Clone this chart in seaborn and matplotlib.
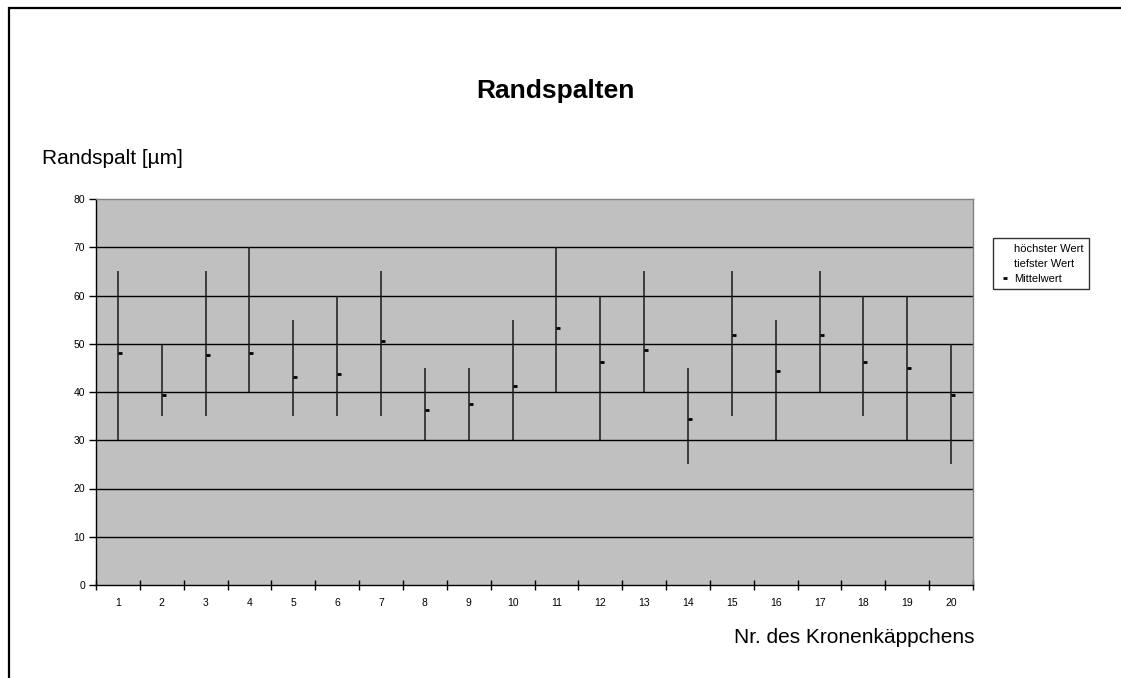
import numpy as np
import pandas as pd
import matplotlib
matplotlib.use("Agg")
import matplotlib.pyplot as plt
from matplotlib.lines import Line2D
from matplotlib.patches import Rectangle
import seaborn as sns

# ---- data ----
crowns = list(range(1, 21))
high = [65, 50, 65, 70, 55, 60, 65, 45, 45, 55, 70, 60, 65, 45, 65, 55, 65, 60, 60, 50]
low = [30, 35, 35, 40, 35, 35, 35, 30, 30, 30, 40, 30, 40, 25, 35, 30, 40, 35, 30, 25]
mean = [48.1, 39.4, 47.6, 48.1, 43.1, 43.7, 50.6, 36.3, 37.5, 41.2,
        53.2, 46.3, 48.8, 34.4, 51.9, 44.3, 51.9, 46.3, 45.0, 39.4]
yticks = [0, 10, 20, 30, 40, 50, 60, 70, 80]

title = "Randspalten"
ylabel = "Randspalt [µm]"
xlabel = "Nr. des Kronenkäppchens"
legend_labels = ["höchster Wert", "tiefster Wert", "Mittelwert"]

df = pd.DataFrame({"nr": crowns, "high": high, "low": low, "mean": mean})

sns.set_theme(style="white")
plt.rcParams["font.family"] = ["Liberation Sans", "DejaVu Sans"]
plt.rcParams["text.color"] = "black"
plt.rcParams["xtick.color"] = "black"
plt.rcParams["ytick.color"] = "black"
plt.rcParams["xtick.labelcolor"] = "black"
plt.rcParams["ytick.labelcolor"] = "black"

W, H = 1121, 678
fig = plt.figure(figsize=(W / 100, H / 100), dpi=100)
fig.patch.set_facecolor("white")

left, right, top, bottom = 96, 973, 199, 585
ax = fig.add_axes([left / W, 1 - bottom / H, (right - left) / W, (bottom - top) / H])
ax.set_facecolor("#C0C0C0")

# gridlines
for v in yticks[1:-1]:
    ax.axhline(v, color="black", lw=1.0, zorder=1)

# high-low lines
ax.vlines(df["nr"], df["low"], df["high"], color="#1a1a1a", lw=1.1, zorder=3)

# means (close-tick markers)
sns.lineplot(data=df, x="nr", y="mean", ax=ax, linestyle="", marker=1,
             markersize=2.8, markeredgewidth=2.0, color="black",
             markeredgecolor="black", zorder=4, legend=False)

ax.set_xlim(0.5, 20.5)
ax.set_ylim(0, 80)
ax.set_yticks(yticks)
ax.set_yticklabels([str(v) for v in yticks], fontsize=7.5)
ax.set_xticks(np.arange(0.5, 21, 1))
ax.set_xticklabels([])
ax.set_xticks(crowns, minor=True)
ax.set_xticklabels([str(c) for c in crowns], minor=True, fontsize=7.5)
ax.tick_params(axis="x", which="major", direction="inout", length=7, width=1,
               color="black", bottom=True)
ax.tick_params(axis="x", which="minor", length=0, pad=9, bottom=True)
ax.tick_params(axis="y", which="major", direction="out", length=5, width=1,
               color="black", pad=3, left=True)
ax.set_xlabel("")
ax.set_ylabel("")
ax.grid(False)

for s in ["left", "bottom"]:
    ax.spines[s].set_color("black")
    ax.spines[s].set_linewidth(1.0)
for s in ["top", "right"]:
    ax.spines[s].set_color("#808080")
    ax.spines[s].set_linewidth(1.0)

# texts
fig.text(555.5 / W, 1 - 98 / H, title, ha="center", va="baseline",
         fontsize=19, fontweight="bold", color="black")
fig.text(42 / W, 1 - 164 / H, ylabel, ha="left", va="baseline", fontsize=15,
         color="black")
fig.text(974 / W, 1 - 643 / H, xlabel, ha="right", va="baseline", fontsize=15,
         color="black")

# legend
handles = [
    Line2D([], [], linestyle="", marker=None),
    Line2D([], [], linestyle="", marker=None),
    Line2D([], [], linestyle="", marker=1, markersize=2.8, markeredgewidth=2.0,
           color="black"),
]
leg = fig.legend(handles, legend_labels, loc="upper left",
                 bbox_to_anchor=(993 / W, 1 - 238 / H), fontsize=8,
                 frameon=True, fancybox=False, edgecolor="black",
                 handlelength=0.8, handletextpad=0.6, borderpad=0.5,
                 labelspacing=0.45, borderaxespad=0)
leg.get_frame().set_linewidth(1.0)
for t in leg.get_texts():
    t.set_color("black")

# outer chart frame
fig.patches.append(Rectangle((9 / W, -0.1), 1.5, 1 - 7.5 / H + 0.1,
                             transform=fig.transFigure, fill=False,
                             edgecolor="black", lw=1.6, clip_on=False))

fig.savefig("out.png", dpi=100, facecolor="white")
